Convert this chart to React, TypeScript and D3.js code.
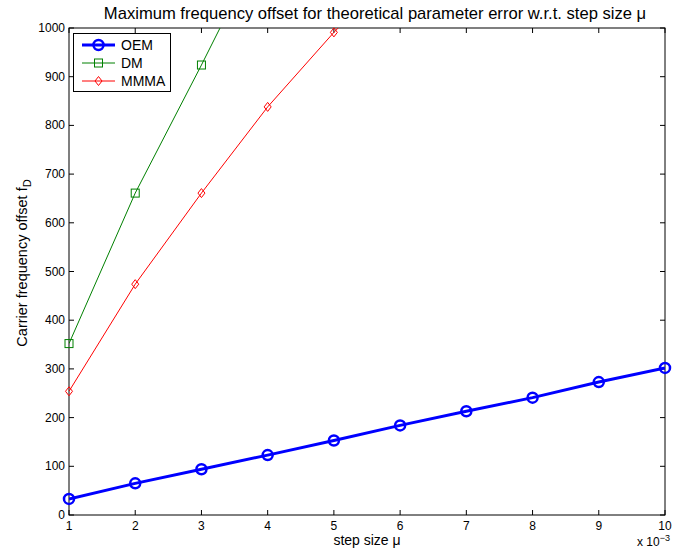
import * as d3 from "d3";
import { useRef, useEffect } from "react";

const width = 694;
const height = 550;
const margin = { top: 28, right: 29, bottom: 35, left: 69 };

const stepSizes = [1, 2, 3, 4, 5, 6, 7, 8, 9, 10];
const oemValues = [33, 65, 94, 123, 153, 184, 213, 241, 273, 302];
const dmValues = [352, 661, 924, 1195];
const mmmaValues = [254, 474, 661, 838, 991, 1130];
const xTicks = [1, 2, 3, 4, 5, 6, 7, 8, 9, 10];
const yTicks = [0, 100, 200, 300, 400, 500, 600, 700, 800, 900, 1000];

const series = [
  { name: "OEM", values: oemValues, color: "#0000ff", width: 3, marker: "circle" },
  { name: "DM", values: dmValues, color: "#008000", width: 1, marker: "square" },
  { name: "MMMA", values: mmmaValues, color: "#ff0000", width: 1, marker: "diamond" },
];

const font = "'Liberation Sans', Arial, Helvetica, sans-serif";

function drawMarker(g, type, x, y, color) {
  if (type === "circle") {
    g.append("circle").attr("cx", x).attr("cy", y).attr("r", 5)
      .attr("fill", "none").attr("stroke", color).attr("stroke-width", 2.5);
  } else if (type === "square") {
    g.append("rect").attr("x", x - 4).attr("y", y - 4).attr("width", 8).attr("height", 8)
      .attr("fill", "none").attr("stroke", color).attr("stroke-width", 1);
  } else {
    g.append("path").attr("d", `M${x},${y - 4.5}L${x + 3.5},${y}L${x},${y + 4.5}L${x - 3.5},${y}Z`)
      .attr("fill", "none").attr("stroke", color).attr("stroke-width", 1);
  }
}

export default function App() {
  const svgRef = useRef(null);

  useEffect(() => {
    const svg = d3.select(svgRef.current);
    svg.selectAll("*").remove();

    const x = d3.scaleLinear().domain([1, 10]).range([margin.left, width - margin.right]);
    const y = d3.scaleLinear().domain([0, 1000]).range([height - margin.bottom, margin.top]);
    const x0 = margin.left, x1 = width - margin.right;
    const y0 = height - margin.bottom, y1 = margin.top;

    svg.append("rect").attr("width", width).attr("height", height).attr("fill", "#fff");

    svg.append("defs").append("clipPath").attr("id", "plot-clip")
      .append("rect").attr("x", x0).attr("y", y1).attr("width", x1 - x0).attr("height", y0 - y1);

    // axes box with inward ticks
    const axes = svg.append("g").attr("stroke", "#000").attr("stroke-width", 1);
    xTicks.forEach(t => {
      axes.append("line").attr("x1", x(t)).attr("x2", x(t)).attr("y1", y0).attr("y2", y0 - 5);
      axes.append("line").attr("x1", x(t)).attr("x2", x(t)).attr("y1", y1).attr("y2", y1 + 5);
    });
    yTicks.forEach(t => {
      axes.append("line").attr("x1", x0).attr("x2", x0 + 5).attr("y1", y(t)).attr("y2", y(t));
      axes.append("line").attr("x1", x1).attr("x2", x1 - 5).attr("y1", y(t)).attr("y2", y(t));
    });
    axes.append("rect").attr("x", x0).attr("y", y1).attr("width", x1 - x0).attr("height", y0 - y1)
      .attr("fill", "none");

    const labels = svg.append("g").attr("font-family", font).attr("font-size", 12).attr("fill", "#000");
    xTicks.forEach(t => {
      labels.append("text").attr("x", x(t)).attr("y", y0 + 15).attr("text-anchor", "middle").text(t);
    });
    yTicks.forEach(t => {
      labels.append("text").attr("x", x0 - 4).attr("y", y(t) + 4).attr("text-anchor", "end").text(t);
    });
    const exp = labels.append("text").attr("x", x1 - 28).attr("y", y0 + 31);
    exp.append("tspan").text("x 10");
    exp.append("tspan").attr("dy", -5).attr("font-size", 9).text("\u22123");

    // series: lines clipped to the axes, markers only where inside the y range
    const plot = svg.append("g").attr("clip-path", "url(#plot-clip)");
    const markers = svg.append("g");
    series.forEach(s => {
      const pts = s.values.map((v, i) => [stepSizes[i], v]);
      const line = d3.line().x(d => x(d[0])).y(d => y(d[1]));
      plot.append("path").datum(pts).attr("d", line).attr("fill", "none")
        .attr("stroke", s.color).attr("stroke-width", s.width);
      pts.filter(p => p[1] <= 1000).forEach(p => drawMarker(markers, s.marker, x(p[0]), y(p[1]), s.color));
    });

    // titles
    svg.append("text").attr("x", (x0 + x1) / 2 + 8).attr("y", 19).attr("text-anchor", "middle")
      .attr("font-family", font).attr("font-size", 16.6).text("Maximum frequency offset for theoretical parameter error w.r.t. step size \u03bc");
    svg.append("text").attr("x", (x0 + x1) / 2).attr("y", y0 + 30).attr("text-anchor", "middle")
      .attr("font-family", font).attr("font-size", 14).text("step size \u03bc");
    const yl = svg.append("text").attr("transform", `translate(27,263) rotate(-90)`)
      .attr("text-anchor", "middle").attr("font-family", font).attr("font-size", 14.5);
    yl.append("tspan").text("Carrier frequency offset f");
    yl.append("tspan").attr("dy", 4).attr("font-size", 11).text("D");

    // legend
    const lg = svg.append("g");
    lg.append("rect").attr("x", 73.5).attr("y", 33.5).attr("width", 97).attr("height", 58)
      .attr("fill", "#fff").attr("stroke", "#000").attr("stroke-width", 1);
    series.forEach((s, i) => {
      const ly = 45 + i * 18;
      lg.append("line").attr("x1", 82).attr("x2", 115).attr("y1", ly).attr("y2", ly)
        .attr("stroke", s.color).attr("stroke-width", s.width);
      drawMarker(lg, s.marker, 98.5, ly, s.color);
      lg.append("text").attr("x", 121).attr("y", ly + 5).attr("font-family", font)
        .attr("font-size", 14).text(s.name);
    });
  }, []);

  return (
    <div style={{ position: "absolute", left: 0, top: 0 }}>
      <svg ref={svgRef} width={width} height={height} style={{ display: "block" }} />
    </div>
  );
}
